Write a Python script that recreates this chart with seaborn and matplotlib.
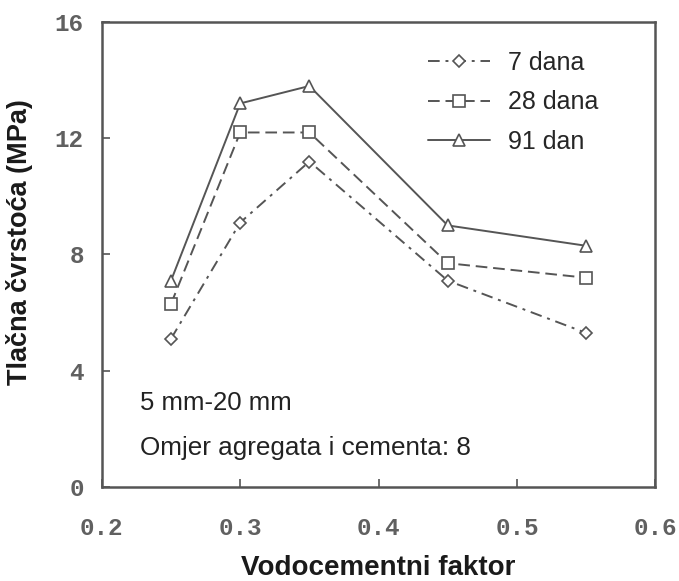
import numpy as np
import pandas as pd
import matplotlib
matplotlib.use("Agg")
import matplotlib.pyplot as plt
import seaborn as sns

# water/cement ratio and compressive strength (MPa)
wc_ratio = [0.25, 0.30, 0.35, 0.45, 0.55]
strength_7 = [5.1, 9.1, 11.2, 7.1, 5.3]
strength_28 = [6.3, 12.2, 12.2, 7.7, 7.2]
strength_91 = [7.1, 13.2, 13.8, 9.0, 8.3]

series_names = ["7 dana", "28 dana", "91 dan"]
x_ticks = [0.2, 0.3, 0.4, 0.5, 0.6]
x_tick_labels = ["0.2", "0.3", "0.4", "0.5", "0.6"]
y_ticks = [0, 4, 8, 12, 16]

data = pd.DataFrame({
    "wc": wc_ratio * 3,
    "strength": strength_7 + strength_28 + strength_91,
    "age": np.repeat(series_names, len(wc_ratio)),
})

sns.set_style("white")
plt.rcParams["font.family"] = ["Liberation Sans", "DejaVu Sans"]

grey = "#555555"
styles = {
    "7 dana": ((0, (6, 3, 1.5, 3)), "D", 6.5),
    "28 dana": ((0, (6, 3)), "s", 8),
    "91 dan": ("-", "^", 8.5),
}

fig = plt.figure(figsize=(6.79, 5.81), dpi=100)
ax = fig.add_axes([0.150, 0.162, 0.815, 0.800])

for name in series_names:
    ls, marker, ms = styles[name]
    sns.lineplot(data=data[data["age"] == name], x="wc", y="strength",
                 ax=ax, color=grey, linestyle=ls, linewidth=1.4,
                 marker=marker, markersize=ms, markerfacecolor="white",
                 markeredgecolor=grey, markeredgewidth=1.2, label=name)

ax.set_xlim(0.2, 0.6)
ax.set_ylim(0, 16)
ax.set_xticks(x_ticks)
ax.set_xticklabels(x_tick_labels)
ax.set_yticks(y_ticks)
for lab in ax.get_xticklabels() + ax.get_yticklabels():
    lab.set_family("Liberation Mono")
    lab.set_fontsize(17.5)
    lab.set_color("#606060")
    lab.set_fontweight("bold")

ax.tick_params(axis="x", pad=22)
ax.tick_params(axis="y", pad=13)
ax.tick_params(direction="in", length=6, width=1.2, color=grey,
               bottom=True, left=True, top=False, right=False)
for sp in ax.spines.values():
    sp.set_color(grey)
    sp.set_linewidth(1.8)

ax.set_xlabel("Vodocementni faktor", fontsize=20, fontweight="bold",
              color="#1a1a1a", va="center")
ax.set_ylabel("Tlačna čvrstoća (MPa)", fontsize=19.5, fontweight="bold",
              color="#1a1a1a", va="center")
ax.xaxis.set_label_coords(0.5, -0.175)
ax.yaxis.set_label_coords(-0.148, 0.527)

ax.text(0.2275, 2.89, "5 mm-20 mm", fontsize=18.5, color="#222222",
        va="center")
ax.text(0.2275, 1.34, "Omjer agregata i cementa: 8", fontsize=18.8,
        color="#222222", va="center")

ax.legend(loc="upper right", frameon=False, fontsize=18, handlelength=2.5,
          handletextpad=0.7, labelspacing=0.62, borderpad=0,
          borderaxespad=0, bbox_to_anchor=(0.897, 0.938))

fig.savefig("out.png", dpi=100)
